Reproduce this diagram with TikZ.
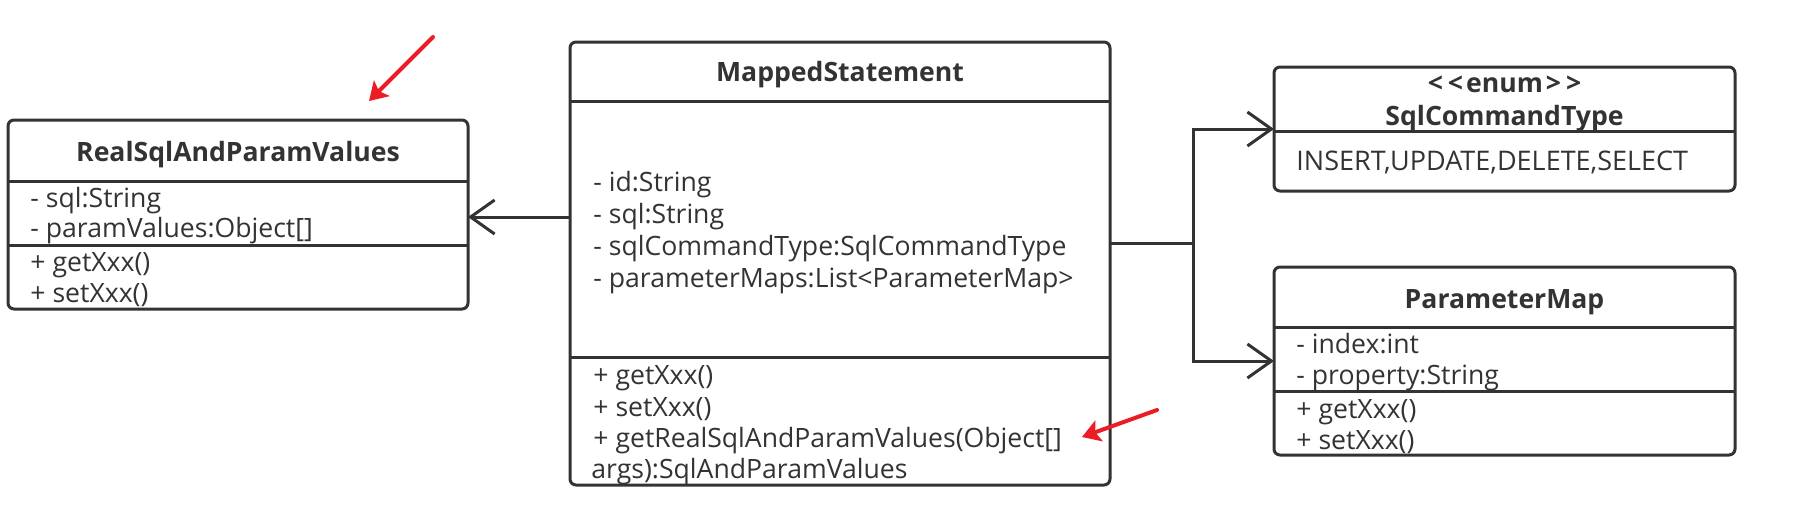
\documentclass[tikz,border=0pt]{standalone}
\usepackage{fontspec}
\setmainfont{Open Sans}
\usetikzlibrary{arrows.meta}
\definecolor{ink}{HTML}{333333}
\definecolor{mark}{HTML}{EC1C24}
\begin{document}
\begin{tikzpicture}[x=0.5pt,y=-0.5pt,
  box/.style={draw=ink, line width=1.5pt, rounded corners=3pt, inner sep=0pt, outer sep=0pt, fill=white},
  sep/.style={draw=ink, line width=1.5pt},
  txt/.style={anchor=mid west, inner sep=0pt, text=ink, font=\fontsize{13.3}{16}\selectfont},
  ttl/.style={anchor=mid, inner sep=0pt, text=ink, font=\bfseries\fontsize{13.3}{16}\selectfont},
  assoc/.style={draw=ink, line width=1.5pt, -{Straight Barb[length=12pt,width=17pt]}},
  hl/.style={draw=mark, line width=2pt, line cap=round, -{Stealth[length=9pt,width=11pt,inset=2pt]}}]
\useasboundingbox (0,0) rectangle (1815,526);
% boxes
\node[box, minimum width=230pt, minimum height=94.5pt] (R) at (238,214.5) {};
\node[box, minimum width=270pt, minimum height=221.5pt] (M) at (840,263.5) {};
\node[box, minimum width=230.5pt, minimum height=62pt] (S) at (1504.5,129) {};
\node[box, minimum width=230.5pt, minimum height=94pt] (P) at (1504.5,361) {};
% separators
\draw[sep] (R.west |- 0,181) -- (R.east |- 0,181);
\draw[sep] (R.west |- 0,245) -- (R.east |- 0,245);
\draw[sep] (M.west |- 0,101) -- (M.east |- 0,101);
\draw[sep] (M.west |- 0,357) -- (M.east |- 0,357);
\draw[sep] (S.west |- 0,131) -- (S.east |- 0,131);
\draw[sep] (P.west |- 0,327) -- (P.east |- 0,327);
\draw[sep] (P.west |- 0,391) -- (P.east |- 0,391);
% RealSqlAndParamValues
\node[ttl] (Rt) at (238,156) {RealSqlAndParamValues};
\node[txt] (R1) at (30,202) {- sql:String};
\node[txt] (R2) at (30,232) {- paramValues:Object[]};
\node[txt] (R3) at (30,266) {+ getXxx()};
\node[txt] (R4) at (30,297) {+ setXxx()};
% MappedStatement
\node[ttl] (Mt) at (840,76) {MappedStatement};
\node[txt] (M1) at (593,186) {- id:String};
\node[txt] (M2) at (593,218) {- sql:String};
\node[txt] (M3) at (593,250) {- sqlCommandType:SqlCommandType};
\node[txt] (M4) at (593,282) {- parameterMaps:List<ParameterMap>};
\node[txt] (M5) at (593,379) {+ getXxx()};
\node[txt] (M6) at (593,411) {+ setXxx()};
\node[txt] (M7) at (593,442) {+ getRealSqlAndParamValues(Object[]};
\node[txt] (M8) at (591,473) {args):SqlAndParamValues};
% SqlCommandType
\node[ttl] (St1) at (1504.5,87) {<\kern2.5pt<\kern1.5pt enum\kern1.5pt>\kern2.5pt>};
\node[ttl] (St2) at (1504.5,120) {SqlCommandType};
\node[txt, font=\fontsize{13.5}{16}\selectfont] (S1) at (1296,165) {INSERT,UPDATE,DELETE,SELECT};
% ParameterMap
\node[ttl] (Pt) at (1504.5,303) {ParameterMap};
\node[txt] (P1) at (1296,348) {- index:int};
\node[txt] (P2) at (1296,379) {- property:String};
\node[txt] (P3) at (1296,413) {+ getXxx()};
\node[txt] (P4) at (1296,444) {+ setXxx()};
% connectors
\draw[assoc] (M.west |- 0,217) -- (R.east |- 0,217);
\coordinate (j) at (1193,243);
\draw[sep] (M.east |- j) -- (j);
\draw[assoc] (j) |- (S.west);
\draw[assoc] (j) |- (P.west);
% red markers
\coordinate (r1a) at (433,37);
\coordinate (r1b) at (369,101);
\draw[hl] (r1a) -- (r1b);
\coordinate (r2a) at (1157,410);
\coordinate (r2b) at (1082,437);
\draw[hl] (r2a) -- (r2b);
\end{tikzpicture}
\end{document}
